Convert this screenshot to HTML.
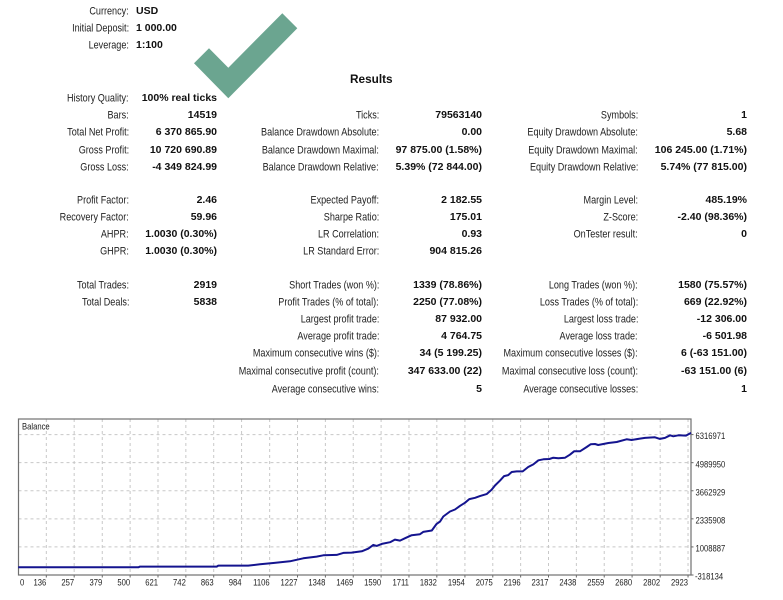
<!DOCTYPE html>
<html lang="en">
<head>
<meta charset="utf-8">
<title>Strategy Tester Report</title>
<style>
html,body{margin:0;padding:0;background:#fff;}
#page{position:relative;width:783px;height:600px;overflow:hidden;background:#fff;font-family:"Liberation Sans",sans-serif;color:#222;}
#page span{position:absolute;white-space:nowrap;line-height:14px;font-size:11px;transform:translateY(.6px) scaleX(.825);transform-origin:100% 50%;}
#page span.v{font-weight:bold;font-size:10.5px;color:#111;transform:none;}
.a{right:654px}.b{right:566px}.c{right:404px}.d{right:301px}.e{right:145px}.f{right:36px}
#check{position:absolute;left:0;top:0;}
#chart{position:absolute;left:0;top:400px;}
#chart text{font-family:"Liberation Sans",sans-serif;font-size:9px;fill:#222;}
</style>
</head>
<body>
<div id="page">
<svg id="check" width="320" height="110"><polygon points="209,48.3 228.3,67.7 282.3,13.3 297.3,28.3 228.3,98.3 194,63.3" fill="#6ba590"/></svg>

<span class="a" style="top:4px">Currency:</span>
<span class="v" style="top:4px;left:136px">USD</span>
<span class="a" style="top:21px">Initial Deposit:</span>
<span class="v" style="top:21px;left:136px">1 000.00</span>
<span class="a" style="top:38px">Leverage:</span>
<span class="v" style="top:38px;left:136px">1:100</span>

<span class="v" style="top:72px;left:350px;font-size:11.8px">Results</span>

<span class="a" style="top:91px">History Quality:</span>
<span class="v b" style="top:91px">100% real ticks</span>

<span class="a" style="top:108px">Bars:</span>
<span class="v b" style="top:108px">14519</span>
<span class="c" style="top:108px">Ticks:</span>
<span class="v d" style="top:108px">79563140</span>
<span class="e" style="top:108px">Symbols:</span>
<span class="v f" style="top:108px">1</span>

<span class="a" style="top:125px">Total Net Profit:</span>
<span class="v b" style="top:125px">6 370 865.90</span>
<span class="c" style="top:125px">Balance Drawdown Absolute:</span>
<span class="v d" style="top:125px">0.00</span>
<span class="e" style="top:125px">Equity Drawdown Absolute:</span>
<span class="v f" style="top:125px">5.68</span>

<span class="a" style="top:143px">Gross Profit:</span>
<span class="v b" style="top:143px">10 720 690.89</span>
<span class="c" style="top:143px">Balance Drawdown Maximal:</span>
<span class="v d" style="top:143px">97 875.00 (1.58%)</span>
<span class="e" style="top:143px">Equity Drawdown Maximal:</span>
<span class="v f" style="top:143px">106 245.00 (1.71%)</span>

<span class="a" style="top:160px">Gross Loss:</span>
<span class="v b" style="top:160px">-4 349 824.99</span>
<span class="c" style="top:160px">Balance Drawdown Relative:</span>
<span class="v d" style="top:160px">5.39% (72 844.00)</span>
<span class="e" style="top:160px">Equity Drawdown Relative:</span>
<span class="v f" style="top:160px">5.74% (77 815.00)</span>

<span class="a" style="top:193px">Profit Factor:</span>
<span class="v b" style="top:193px">2.46</span>
<span class="c" style="top:193px">Expected Payoff:</span>
<span class="v d" style="top:193px">2 182.55</span>
<span class="e" style="top:193px">Margin Level:</span>
<span class="v f" style="top:193px">485.19%</span>

<span class="a" style="top:210px">Recovery Factor:</span>
<span class="v b" style="top:210px">59.96</span>
<span class="c" style="top:210px">Sharpe Ratio:</span>
<span class="v d" style="top:210px">175.01</span>
<span class="e" style="top:210px">Z-Score:</span>
<span class="v f" style="top:210px">-2.40 (98.36%)</span>

<span class="a" style="top:227px">AHPR:</span>
<span class="v b" style="top:227px">1.0030 (0.30%)</span>
<span class="c" style="top:227px">LR Correlation:</span>
<span class="v d" style="top:227px">0.93</span>
<span class="e" style="top:227px">OnTester result:</span>
<span class="v f" style="top:227px">0</span>

<span class="a" style="top:244px">GHPR:</span>
<span class="v b" style="top:244px">1.0030 (0.30%)</span>
<span class="c" style="top:244px">LR Standard Error:</span>
<span class="v d" style="top:244px">904 815.26</span>

<span class="a" style="top:278px">Total Trades:</span>
<span class="v b" style="top:278px">2919</span>
<span class="c" style="top:278px">Short Trades (won %):</span>
<span class="v d" style="top:278px">1339 (78.86%)</span>
<span class="e" style="top:278px">Long Trades (won %):</span>
<span class="v f" style="top:278px">1580 (75.57%)</span>

<span class="a" style="top:295px">Total Deals:</span>
<span class="v b" style="top:295px">5838</span>
<span class="c" style="top:295px">Profit Trades (% of total):</span>
<span class="v d" style="top:295px">2250 (77.08%)</span>
<span class="e" style="top:295px">Loss Trades (% of total):</span>
<span class="v f" style="top:295px">669 (22.92%)</span>

<span class="c" style="top:312px">Largest profit trade:</span>
<span class="v d" style="top:312px">87 932.00</span>
<span class="e" style="top:312px">Largest loss trade:</span>
<span class="v f" style="top:312px">-12 306.00</span>

<span class="c" style="top:329px">Average profit trade:</span>
<span class="v d" style="top:329px">4 764.75</span>
<span class="e" style="top:329px">Average loss trade:</span>
<span class="v f" style="top:329px">-6 501.98</span>

<span class="c" style="top:346px">Maximum consecutive wins ($):</span>
<span class="v d" style="top:346px">34 (5 199.25)</span>
<span class="e" style="top:346px">Maximum consecutive losses ($):</span>
<span class="v f" style="top:346px">6 (-63 151.00)</span>

<span class="c" style="top:364px">Maximal consecutive profit (count):</span>
<span class="v d" style="top:364px">347 633.00 (22)</span>
<span class="e" style="top:364px">Maximal consecutive loss (count):</span>
<span class="v f" style="top:364px">-63 151.00 (6)</span>

<span class="c" style="top:382px">Average consecutive wins:</span>
<span class="v d" style="top:382px">5</span>
<span class="e" style="top:382px">Average consecutive losses:</span>
<span class="v f" style="top:382px">1</span>

<svg id="chart" width="783" height="200" viewBox="0 400 783 200"></svg>
</div>
<script>
const xTickLabels = [0,136,257,379,500,621,742,863,984,1106,1227,1348,1469,1590,1711,1832,1954,2075,2196,2317,2438,2559,2680,2802,2923];
const yTickLabels = [-318134,1008887,2335908,3662929,4989950,6316971];
const trades = [14,536,543,876,883,1013,1064,1122,1194,1252,1310,1339,1397,1426,1462,1506,1535,1556,1571,1593,1629,1650,1672,1694,1723,1759,1773,1810,1831,1846,1860,1889,1911,1933,1954,1973,1998,2019,2048,2070,2085,2106,2124,2142,2157,2179,2205,2229,2251,2273,2295,2321,2338,2360,2389,2410,2428,2454,2483,2500,2519,2533,2577,2613,2656,2678,2714,2736,2779,2801,2823,2845,2859,2881,2914,2936];
const balance = [45000,45000,77000,77000,124000,124000,187000,251000,330000,472000,551000,614000,630000,725000,740000,804000,930000,1104000,1056000,1151000,1230000,1356000,1309000,1420000,1562000,1609000,1720000,1783000,2099000,2210000,2447000,2683000,2778000,2952000,3094000,3268000,3331000,3410000,3505000,3710000,3916000,4137000,4358000,4405000,4548000,4579000,4579000,4785000,4911000,5101000,5148000,5164000,5227000,5195000,5227000,5369000,5527000,5527000,5733000,5859000,5875000,5827000,5922000,5969000,6096000,6064000,6127000,6159000,6191000,6112000,6159000,6285000,6238000,6285000,6270000,6396000];

const NS = 'http://www.w3.org/2000/svg';
const svg = document.getElementById('chart');
const plotLeft = 18.5, plotRight = 691, plotTop = 419, plotBottom = 575;
const xScale = n => 15 + n / 4.343;
const yScale = v => plotBottom - (v - yTickLabels[0]) / (yTickLabels[yTickLabels.length - 1] - yTickLabels[0]) * 140.4;

function add(tag, attrs, text) {
  const el = document.createElementNS(NS, tag);
  for (const k in attrs) el.setAttribute(k, attrs[k]);
  if (text !== undefined) el.textContent = text;
  svg.appendChild(el);
  return el;
}
function squeeze(el) {
  el.setAttribute('textLength', (el.getComputedTextLength() * 0.85).toFixed(1));
  el.setAttribute('lengthAdjust', 'spacingAndGlyphs');
}

xTickLabels.forEach((t, i) => {
  const x = xScale(t);
  if (i > 0) {
    const g = add('line', {x1: x, x2: x, y1: plotTop, y2: plotBottom, stroke: '#c8c8c8', 'stroke-width': 1, 'stroke-dasharray': '3 3'});
    
    
    const m = add('line', {x1: x, x2: x, y1: plotBottom, y2: plotBottom + 2.5, stroke: '#666', 'stroke-width': 1});
    
    
  }
  const lab = add('text', i === 0 ? {x: plotLeft + 1.5, y: 585.5} : {x: x, y: 585.5, 'text-anchor': 'end'}, t);
  
  
  squeeze(lab);
});

yTickLabels.forEach((t, i) => {
  const y = yScale(t);
  if (i > 0) {
    const g = add('line', {x1: plotLeft, x2: plotRight, y1: y, y2: y, stroke: '#c8c8c8', 'stroke-width': 1, 'stroke-dasharray': '3 3'});
    
    
  }
  const m = add('line', {x1: plotRight, x2: plotRight + 2.5, y1: y, y2: y, stroke: '#666', 'stroke-width': 1});
  
  
  const lab = add('text', {x: t < 0 ? 695 : 695.5, y: y + 4.6}, t);
  
  
  squeeze(lab);
});

const frame = add('rect', {x: plotLeft, y: plotTop, width: plotRight - plotLeft, height: plotBottom - plotTop, fill: 'none', stroke: '#707070', 'stroke-width': 1.2});



const title = add('text', {x: 22, y: 429.5}, 'Balance');


squeeze(title);

const pts = trades.map((n, i) => xScale(n).toFixed(1) + ',' + yScale(balance[i]).toFixed(1)).join(' ');
const line = add('polyline', {points: pts, fill: 'none', stroke: '#14148f', 'stroke-width': 2, 'stroke-linejoin': 'round'});


</script>
</body>
</html>
